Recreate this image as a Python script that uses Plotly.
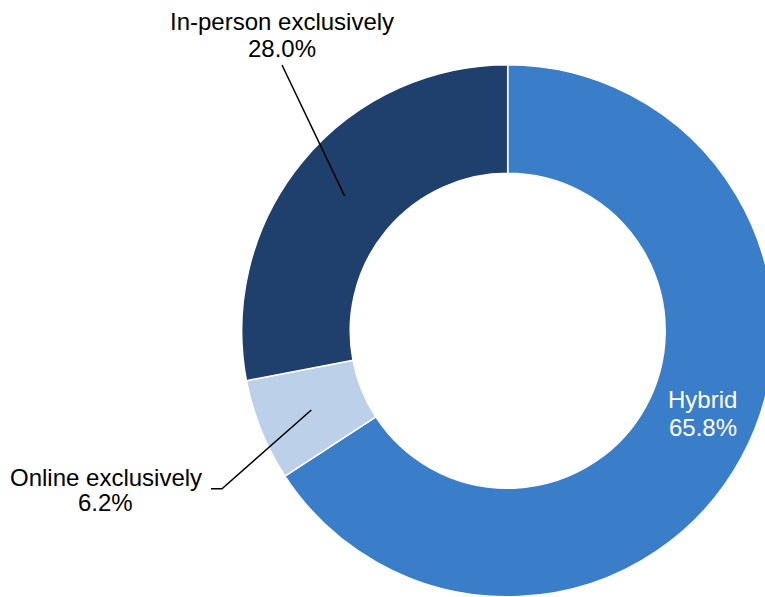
import math
import plotly.graph_objects as go

# ---- data ----
labels = ["Hybrid", "Online exclusively", "In-person exclusively"]
values = [65.8, 6.2, 28.0]
pct_text = ["65.8%", "6.2%", "28.0%"]
colors = ["#3a7dc8", "#bdd0ea", "#1f3f6d"]

# ---- layout constants (pixels) ----
W, H = 780, 597
cx, cy, R = 507.7, 330.8, 266.0
hole = 0.592
FS = 24
FONT = "Liberation Sans, Arial, sans-serif"


def px(x):
    return x / W


def py(y):
    return 1 - y / H


fig = go.Figure(
    go.Pie(
        labels=labels,
        values=values,
        sort=False,
        direction="clockwise",
        rotation=0,
        hole=hole,
        textinfo="none",
        marker=dict(colors=colors, line=dict(color="white", width=1.5)),
        domain=dict(x=[px(cx - R), px(cx + R)], y=[py(cy + R), py(cy - R)]),
        showlegend=False,
        hoverinfo="label+percent",
    )
)

# mid-angle / mid-radius anchor points of each slice, derived from the data
total = sum(values)
r_mid = (R + hole * R) / 2
anchors = []
cum = 0.0
for v in values:
    theta = 2 * math.pi * (cum + v / 2) / total
    anchors.append((cx + r_mid * math.sin(theta), cy - r_mid * math.cos(theta)))
    cum += v

# label placements: (slice index, center x, baseline line1, baseline line2, color)
label_pos = [
    (0, 702.5, 407.7, 435.7, "white"),
    (1, 106.0, 486.0, 510.5, "black"),
    (2, 282.0, 30.0, 57.0, "black"),
]

annotations = []
for i, x, b1, b2, col in label_pos:
    for txt, b in ((labels[i], b1), (pct_text[i], b2)):
        annotations.append(
            dict(
                x=px(x), y=py(b - 8.3), xref="paper", yref="paper",
                text=txt, showarrow=False, xanchor="center", yanchor="middle",
                font=dict(family=FONT, size=FS, color=col),
            )
        )

# leader lines
ax1, ay1 = anchors[2]
ax2, ay2 = anchors[1]
shapes = [
    dict(type="path", xref="paper", yref="paper",
         path=f"M {px(282)},{py(65)} L {px(ax1)},{py(ay1)}",
         line=dict(color="black", width=1.5)),
    dict(type="path", xref="paper", yref="paper",
         path=f"M {px(211)},{py(488.7)} L {px(222)},{py(488.7)} L {px(ax2)},{py(ay2)}",
         line=dict(color="black", width=1.5)),
]

fig.update_layout(
    width=W, height=H,
    margin=dict(l=0, r=0, t=0, b=0),
    paper_bgcolor="white", plot_bgcolor="white",
    annotations=annotations, shapes=shapes,
)

fig.write_html(
    "out.html",
    config={"displayModeBar": False},
    post_script="document.body.style.margin='0';document.body.style.overflow='hidden';",
)
